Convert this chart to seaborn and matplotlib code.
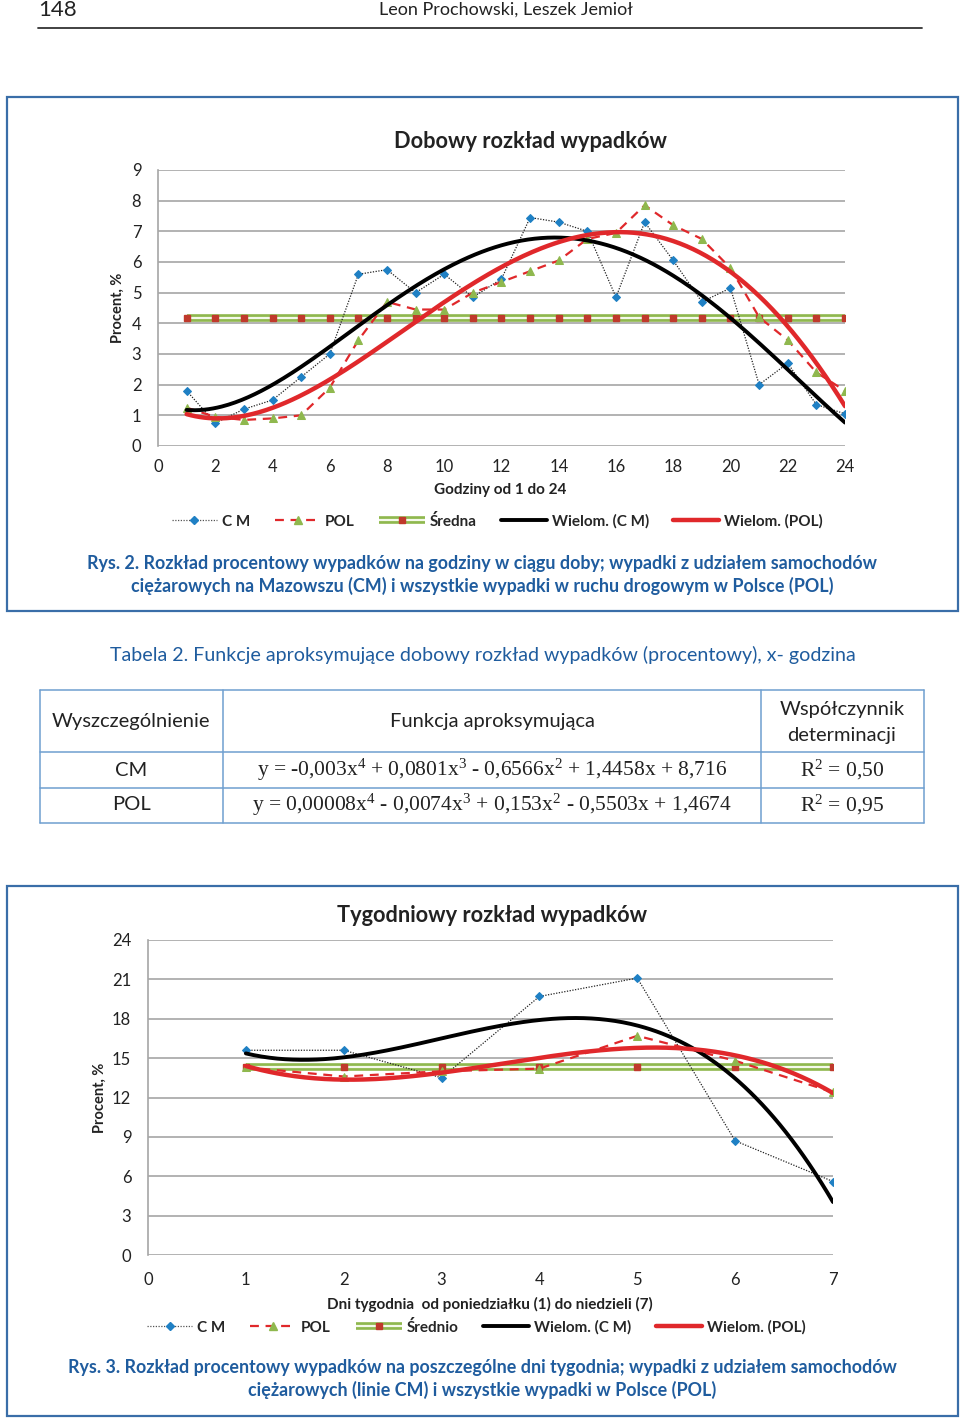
import numpy as np
import pandas as pd
import matplotlib
matplotlib.use("Agg")
import matplotlib.pyplot as plt
import seaborn as sns
from matplotlib.lines import Line2D
from matplotlib.patches import Rectangle
from matplotlib.legend_handler import HandlerTuple

# ---------------- data ----------------
hours = list(range(1, 25))
cm_day = [1.8, 0.75, 1.2, 1.5, 2.25, 3.0, 5.6, 5.75, 5.0, 5.6, 4.85, 5.45,
          7.45, 7.3, 7.0, 4.85, 7.3, 6.05, 4.7, 5.15, 2.0, 2.7, 1.35, 1.05]
pol_day = [1.25, 0.95, 0.85, 0.9, 1.0, 1.9, 3.45, 4.7, 4.45, 4.45, 5.0, 5.35,
           5.7, 6.05, 6.75, 6.95, 7.85, 7.2, 6.75, 5.8, 4.2, 3.45, 2.4, 1.8]
mean_day = 4.17

days = list(range(1, 8))
cm_week = [15.6, 15.6, 13.5, 19.7, 21.1, 8.7, 5.6]
pol_week = [14.3, 13.6, 14.0, 14.2, 16.7, 14.8, 12.4]
mean_week = 14.29

day_xticks = list(range(0, 25, 2))
day_yticks = list(range(0, 10))
week_xticks = list(range(0, 8))
week_yticks = list(range(0, 25, 3))

legend_day = ["C M", "POL", "Średna", "Wielom. (C M)", "Wielom. (POL)"]
legend_week = ["C M", "POL", "Średnio", "Wielom. (C M)", "Wielom. (POL)"]

# ---------------- style ----------------
sns.set_theme(style="white")
plt.rcParams["font.family"] = ["Lato", "DejaVu Sans"]
plt.rcParams["mathtext.fontset"] = "custom"
plt.rcParams["mathtext.rm"] = "Liberation Serif"
plt.rcParams["mathtext.it"] = "Liberation Serif:italic"

W, H = 960, 1420
fig = plt.figure(figsize=(9.6, 14.2), dpi=100)
fig.patch.set_facecolor("white")

def fx(x):
    return x / W

def fy(y):
    return 1 - y / H

def rect(x0, y0, x1, y1):
    return [fx(x0), fy(y1), (x1 - x0) / W, (y1 - y0) / H]

NARROW = ["Lato", "DejaVu Sans"]
BLUE_TXT = "#1f5c9e"
BOX = "#3a6ea8"
C_BLUE = "#1f80c4"
C_RED = "#e0282b"
C_GREEN = "#8fb84e"
C_SQ = "#c0392b"
GRID = "#a6a6a6"

# ---------------- page header ----------------
fig.text(fx(38), fy(10), "148", family=NARROW, fontsize=16, color="#222", va="center", ha="left")
fig.text(fx(506), fy(10), "Leon Prochowski, Leszek Jemioł", family=NARROW, fontsize=13,
         color="#222", va="center", ha="center")
fig.add_artist(Line2D([fx(38), fx(922)], [fy(28), fy(28)], color="#333", lw=1.3))

# boxes
fig.add_artist(Rectangle((fx(7), fy(611)), (958 - 7) / W, (611 - 97) / H, fill=False,
                         edgecolor=BOX, lw=1.6, transform=fig.transFigure))
fig.add_artist(Rectangle((fx(7), fy(1416)), (958 - 7) / W, (1416 - 886) / H, fill=False,
                         edgecolor=BOX, lw=1.6, transform=fig.transFigure))


def draw_chart(ax, x, cm, pol, mean, xlim, ylim, xticks, yticks, deg, ticks_bottom):
    dfc = pd.DataFrame({"x": x, "y": cm})
    dfp = pd.DataFrame({"x": x, "y": pol})
    xs = np.linspace(x[0], x[-1], 300)
    fit_c = np.polyval(np.polyfit(x, cm, deg), xs)
    fit_p = np.polyval(np.polyfit(x, pol, deg), xs)
    # mean line (double green line with red squares)
    ax.plot([x[0], x[-1]], [mean, mean], color=C_GREEN, lw=5.5, zorder=2, solid_capstyle="butt")
    ax.plot([x[0], x[-1]], [mean, mean], color="#f4f9ea", lw=1.6, zorder=2.1, solid_capstyle="butt")
    ax.plot(x, [mean] * len(x), linestyle="none", marker="s", ms=4, color=C_SQ, zorder=2.2)
    # data series
    sns.lineplot(data=dfc, x="x", y="y", ax=ax, color="#222", lw=0.9, linestyle=(0, (1, 1.2)),
                 marker="D", markersize=4.5, markerfacecolor=C_BLUE, markeredgecolor=C_BLUE, zorder=3)
    sns.lineplot(data=dfp, x="x", y="y", ax=ax, color=C_RED, lw=1.6, linestyle=(0, (4, 3)),
                 marker="^", markersize=6, markerfacecolor=C_GREEN, markeredgecolor=C_GREEN, zorder=3)
    # trendlines
    sns.lineplot(x=xs, y=fit_c, ax=ax, color="black", lw=2.8, zorder=4)
    sns.lineplot(x=xs, y=fit_p, ax=ax, color=C_RED, lw=3.2, zorder=4)
    ax.set_xlim(*xlim)
    ax.set_ylim(*ylim)
    ax.set_xticks(xticks)
    ax.set_yticks(yticks)
    ax.yaxis.grid(True, color=GRID, lw=1.2)
    ax.set_axisbelow(True)
    for s in ["top", "right", "bottom"]:
        ax.spines[s].set_visible(False)
    ax.spines["left"].set_color(GRID)
    ax.spines["left"].set_linewidth(1.2)
    ax.set_xlabel("")
    ax.set_ylabel("")
    ax.tick_params(axis="both", labelsize=12, colors="#222", length=0, pad=9)
    ax.tick_params(axis="y", pad=12)
    if ticks_bottom:
        ax.tick_params(axis="x", length=4, color=GRID, width=1, direction="in", pad=12)
    ax.patch.set_visible(False)


def make_legend(cx, cy, labels, spacing):
    h_cm = Line2D([], [], color="#555", lw=0.9, linestyle=(0, (1, 1.2)), marker="D",
                  markersize=4, markerfacecolor=C_BLUE, markeredgecolor=C_BLUE)
    h_pol = Line2D([], [], color=C_RED, lw=1.6, linestyle=(0, (4, 3)), marker="^",
                   markersize=5.5, markerfacecolor=C_GREEN, markeredgecolor=C_GREEN)
    h_m1 = Line2D([], [], color=C_GREEN, lw=5.5, solid_capstyle="butt")
    h_m2 = Line2D([], [], color="#f4f9ea", lw=1.6, solid_capstyle="butt")
    h_m3 = Line2D([], [], linestyle="none", marker="s", ms=4, color=C_SQ)
    h_b = Line2D([], [], color="black", lw=2.8)
    h_r = Line2D([], [], color=C_RED, lw=3.2)
    leg = fig.legend([h_cm, h_pol, (h_m1, h_m2, h_m3), h_b, h_r], labels, ncol=5,
                     loc="center", bbox_to_anchor=(fx(cx), fy(cy)), frameon=False,
                     handlelength=3.0, handletextpad=0.3, columnspacing=spacing,
                     prop={"weight": "bold", "size": 11},
                     handler_map={tuple: HandlerTuple(ndivide=1, pad=0)})
    return leg


# ---------------- top chart ----------------
ax1 = fig.add_axes(rect(158, 170, 845, 446))
draw_chart(ax1, hours, cm_day, pol_day, mean_day, (0, 24), (0, 9), day_xticks, day_yticks, 4, False)
fig.text(fx(531), fy(142), "Dobowy rozkład wypadków", ha="center", va="center",
         fontsize=15.7, fontweight="bold", color="#222")
fig.text(fx(118), fy(308), "Procent, %", rotation=90, ha="center", va="center",
         fontsize=10.5, fontweight="bold", color="#222")
fig.text(fx(500), fy(490), "Godziny od 1 do 24", ha="center", va="center",
         fontsize=11, fontweight="bold", color="#222")
make_legend(497, 521, legend_day, 1.6)

cap = dict(family=NARROW, fontweight="bold", fontsize=12.9, color=BLUE_TXT, ha="center", va="center")
fig.text(fx(482), fy(563), "Rys. 2. Rozkład procentowy wypadków na godziny w ciągu doby; wypadki z udziałem samochodów", **cap)
fig.text(fx(482), fy(586), "ciężarowych na Mazowszu (CM) i wszystkie wypadki w ruchu drogowym w Polsce (POL)", **cap)

# ---------------- table ----------------
fig.text(fx(110), fy(655), "Tabela 2. Funkcje aproksymujące dobowy rozkład wypadków (procentowy), x- godzina",
         family=NARROW, fontsize=14.1, color=BLUE_TXT, ha="left", va="center")
TB = "#6f9fd0"
for yy in [690, 752, 788, 823]:
    fig.add_artist(Line2D([fx(40), fx(924)], [fy(yy), fy(yy)], color=TB, lw=1.1))
for xx in [40, 223, 761, 924]:
    fig.add_artist(Line2D([fx(xx), fx(xx)], [fy(690), fy(823)], color=TB, lw=1.1))
tk = dict(family=NARROW, fontsize=14.5, color="#222", ha="center", va="center")
fig.text(fx(131), fy(722), "Wyszczególnienie", **tk)
fig.text(fx(492), fy(722), "Funkcja aproksymująca", **tk)
fig.text(fx(842), fy(709), "Współczynnik", **tk)
fig.text(fx(842), fy(735), "determinacji", **tk)
fig.text(fx(131), fy(770), "CM", **tk)
fig.text(fx(131), fy(805), "POL", **tk)
ek = dict(family="Liberation Serif", fontsize=15.5, color="#222", ha="center", va="center")
fig.text(fx(492), fy(770), r"y = -0,003x$^{4}$ + 0,0801x$^{3}$ - 0,6566x$^{2}$ + 1,4458x + 8,716", **ek)
fig.text(fx(492), fy(805), r"y = 0,00008x$^{4}$ - 0,0074x$^{3}$ + 0,153x$^{2}$ - 0,5503x + 1,4674", **ek)
fig.text(fx(842), fy(770), r"R$^{2}$ = 0,50", **ek)
fig.text(fx(842), fy(805), r"R$^{2}$ = 0,95", **ek)

# ---------------- bottom chart ----------------
ax2 = fig.add_axes(rect(148, 940, 833, 1255))
draw_chart(ax2, days, cm_week, pol_week, mean_week, (0, 7), (0, 24), week_xticks, week_yticks, 3, True)
fig.text(fx(492), fy(916), "Tygodniowy rozkład wypadków", ha="center", va="center",
         fontsize=15.7, fontweight="bold", color="#222")
fig.text(fx(100), fy(1098), "Procent, %", rotation=90, ha="center", va="center",
         fontsize=10.5, fontweight="bold", color="#222")
fig.text(fx(490), fy(1304), "Dni tygodnia  od poniedziałku (1) do niedzieli (7)", ha="center", va="center",
         fontsize=11, fontweight="bold", color="#222")
make_legend(476, 1327, legend_week, 1.65)

fig.text(fx(482), fy(1367), "Rys. 3. Rozkład procentowy wypadków na poszczególne dni tygodnia; wypadki z udziałem samochodów", **cap)
fig.text(fx(482), fy(1390), "ciężarowych (linie CM) i wszystkie wypadki w Polsce (POL)", **cap)

fig.savefig("out.png", dpi=100, facecolor="white")
